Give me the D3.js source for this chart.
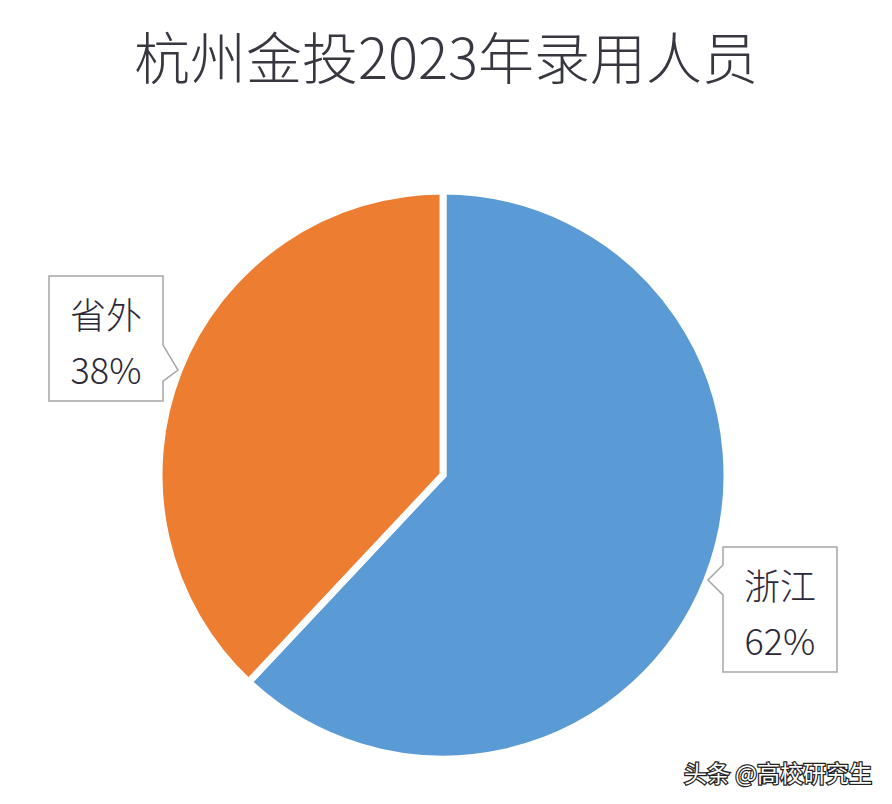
<!DOCTYPE html>
<html>
<head>
<meta charset="utf-8">
<script src="https://cdn.jsdelivr.net/npm/d3@7"></script>
<style>
  body { margin: 0; background: #fff; }
  text { font-family: "Noto Sans CJK SC", "Noto Sans", sans-serif; }
</style>
</head>
<body>
<svg id="chart"></svg>
<script>
// chart data
const title = "杭州金投2023年录用人员";
const categories = ["浙江", "省外"];
const values = [62, 38];
const colors = ["#5B9BD5", "#ED7D31"];
const watermark = "头条 @高校研究生";

const width = 892, height = 804;
const cx = 443, cy = 475, radius = 284;

const svg = d3.select("#chart")
  .attr("width", width)
  .attr("height", height);

svg.append("rect")
  .attr("width", width)
  .attr("height", height)
  .attr("fill", "#fff");

// Title
svg.append("text")
  .attr("x", width / 2)
  .attr("y", 79)
  .attr("text-anchor", "middle")
  .style("font-size", "56px")
  .style("font-weight", 300)
  .style("fill", "#3a3640")
  .text(title);

const pie = d3.pie().sort(null).value((d) => d.value);
const arcs = pie(categories.map((c, i) => ({ name: c, value: values[i] })));
const total = d3.sum(values);

const arc = d3.arc().innerRadius(0).outerRadius(radius);

const g = svg.append("g").attr("transform", `translate(${cx},${cy})`);

g.selectAll("path")
  .data(arcs)
  .enter()
  .append("path")
  .attr("d", arc)
  .attr("fill", (d, i) => colors[i])
  .attr("stroke", "#fff")
  .attr("stroke-width", 7)
  .attr("stroke-linejoin", "miter");

// Callout labels: pointer tip sits just outside the slice at its mid angle
const boxW = 114, boxH = 125, gapX = 15;
arcs.forEach((d, i) => {
  const mid = (d.startAngle + d.endAngle) / 2;
  const tipR = radius + 1;
  const tx = Math.sin(mid) * tipR;
  const ty = -Math.cos(mid) * tipR;
  const right = Math.sin(mid) > 0;
  // vertical position of box relative to the tip
  const top = right ? ty - 33 : ty - 94;
  const left = right ? tx + gapX : tx - gapX - boxW;
  const edge = right ? left : left + boxW;
  const pointer = right
    ? [[left, top], [left + boxW, top], [left + boxW, top + boxH], [left, top + boxH],
       [left, ty + 15], [tx, ty], [left, ty - 15]]
    : [[left, top], [left + boxW, top], [edge, ty - 25], [tx, ty], [edge, ty + 11],
       [left + boxW, top + boxH], [left, top + boxH]];

  g.append("path")
    .attr("d", d3.line()(pointer) + "Z")
    .attr("fill", "#fff")
    .attr("stroke", "#a6a6a6")
    .attr("stroke-width", 1.5);

  const lx = left + boxW / 2;
  g.append("text")
    .attr("x", lx)
    .attr("y", top + 53)
    .attr("text-anchor", "middle")
    .style("font-size", "36px")
    .style("font-weight", 300)
    .style("fill", "#2c2838")
    .text(d.data.name);

  g.append("text")
    .attr("x", lx)
    .attr("y", top + 108)
    .attr("text-anchor", "middle")
    .style("font-size", "36px")
    .style("font-weight", 300)
    .style("fill", "#2c2838")
    .text(Math.round((d.value / total) * 100) + "%");
});

// Watermark
svg.append("text")
  .attr("x", 872)
  .attr("y", 782)
  .attr("text-anchor", "end")
  .style("font-size", "23px")
  .style("fill", "#fff")
  .style("stroke", "#222")
  .style("stroke-width", 2.5)
  .style("paint-order", "stroke")
  .text(watermark);
</script>
</body>
</html>
